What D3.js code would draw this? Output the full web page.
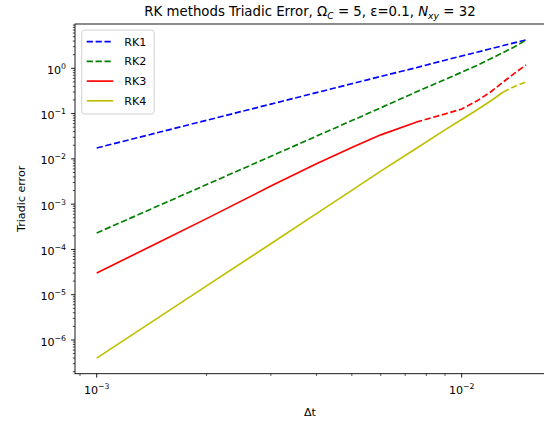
<!DOCTYPE html>
<html lang="en">
<head>
  <meta charset="UTF-8">
  <title>RK methods Triadic Error</title>
  <script src="https://d3js.org/d3.v7.min.js"></script>
  <style>
    body { margin: 0; background: #ffffff; }
    svg { display: block; font-family: 'DejaVu Sans', sans-serif; }
  </style>
</head>
<body>
  <svg width="544" height="426"></svg>

  <script>
    // time steps and errors
    const dt = [0.001, 0.0015, 0.002, 0.003, 0.004, 0.005, 0.006, 0.0075, 0.009, 0.010, 0.011, 0.012, 0.013, 0.014, 0.015];
    const rk1 = [0.0174, 0.0396, 0.0711, 0.162, 0.290, 0.457, 0.661, 1.03, 1.51, 1.87, 2.26, 2.70, 3.18, 3.69, 4.25];
    const rk2 = [2.31e-4, 9.75e-4, 2.71e-3, 0.0114, 0.0317, 0.070, 0.134, 0.30, 0.564, 0.82, 1.15, 1.62, 2.24, 3.02, 4.2];
    const rk3 = [3.03e-5, 1.51e-4, 4.79e-4, 2.51e-3, 7.76e-3, 0.0178, 0.0339, 0.0646, 0.098, 0.126, 0.19, 0.30, 0.50, 0.79, 1.18];
    const rk4 = [3.98e-7, 3.41e-6, 1.57e-5, 1.34e-4, 6.18e-4, 2.02e-3, 5.37e-3, 0.0170, 0.0437, 0.0741, 0.120, 0.19, 0.30, 0.40, 0.50];

    // index of the last point of the solid (stable) part, -1 = all dashed
    const series = [
      { name: "RK1", values: rk1, color: "#0000ff", solidEnd: -1 },
      { name: "RK2", values: rk2, color: "#008000", solidEnd: -1 },
      { name: "RK3", values: rk3, color: "#ff0000", solidEnd: 7 },
      { name: "RK4", values: rk4, color: "#bfbf00", solidEnd: 12 }
    ];

    const yDecades = [-6, -5, -4, -3, -2, -1, 0];
    const xDecades = [-3, -2];

    const svg = d3.select("svg");
    const axLeft = 75, axRight = 547.5, axTop = 24, axBottom = 373.7;

    const x = d3.scaleLog().domain([0.001, 0.01]).range([96.7, 461.7]);
    const y = d3.scaleLog().domain([1, 1e-6]).range([68.3, 340]);

    const dash = "6.2,2.7";
    const line = d3.line().x(d => x(d[0])).y(d => y(d[1]));

    const plot = svg.append("g");
    series.forEach(s => {
      const pts = dt.map((t, i) => [t, s.values[i]]);
      if (s.solidEnd >= 0) {
        plot.append("path")
          .attr("d", line(pts.slice(0, s.solidEnd + 1)))
          .attr("fill", "none")
          .attr("stroke", s.color)
          .attr("stroke-width", 1.67);
      }
      plot.append("path")
        .attr("d", line(pts.slice(Math.max(s.solidEnd, 0))))
        .attr("fill", "none")
        .attr("stroke", s.color)
        .attr("stroke-width", 1.67)
        .attr("stroke-dasharray", dash);
    });

    // spines
    svg.append("rect")
      .attr("x", axLeft).attr("y", axTop)
      .attr("width", axRight - axLeft).attr("height", axBottom - axTop)
      .attr("fill", "none").attr("stroke", "#000").attr("stroke-width", 0.9);

    // ticks
    const ticks = svg.append("g").attr("stroke", "#000").attr("stroke-width", 0.9);
    yDecades.forEach(e => {
      ticks.append("line").attr("x1", axLeft - 3.9).attr("x2", axLeft)
        .attr("y1", y(Math.pow(10, e))).attr("y2", y(Math.pow(10, e)));
    });
    for (let e = -7; e <= 0; e++) {
      for (let m = 2; m <= 9; m++) {
        const py = y(m * Math.pow(10, e));
        if (py < axTop || py > axBottom) continue;
        ticks.append("line").attr("x1", axLeft - 2.2).attr("x2", axLeft)
          .attr("y1", py).attr("y2", py).attr("stroke-width", 0.7);
      }
    }
    xDecades.forEach(e => {
      ticks.append("line").attr("y1", axBottom).attr("y2", axBottom + 3.9)
        .attr("x1", x(Math.pow(10, e))).attr("x2", x(Math.pow(10, e)));
    });
    for (let e = -4; e <= -2; e++) {
      for (let m = 2; m <= 9; m++) {
        const px = x(m * Math.pow(10, e));
        if (px < axLeft || px > axRight) continue;
        ticks.append("line").attr("y1", axBottom).attr("y2", axBottom + 2.2)
          .attr("x1", px).attr("x2", px).attr("stroke-width", 0.7);
      }
    }

    // tick labels with superscripts
    function powLabel(g, e, px, py, anchor) {
      const t = g.append("text")
        .attr("x", px).attr("y", py)
        .attr("text-anchor", anchor)
        .attr("font-size", 11.1)
        .attr("fill", "#000");
      t.append("tspan").text("10");
      t.append("tspan").attr("dy", -5).attr("font-size", 7.8)
        .text(e < 0 ? "\u2212" + (-e) : String(e));
    }
    yDecades.forEach(e => powLabel(svg, e, 66, y(Math.pow(10, e)) + 5.5, "end"));
    xDecades.forEach(e => powLabel(svg, e, x(Math.pow(10, e)), 394, "middle"));

    // axis labels
    svg.append("text")
      .attr("x", 310).attr("y", 416)
      .attr("text-anchor", "middle").attr("font-size", 11.1)
      .text("\u0394t");
    svg.append("text")
      .attr("transform", "translate(25," + ((axTop + axBottom) / 2) + ") rotate(-90)")
      .attr("text-anchor", "middle").attr("font-size", 11.1)
      .text("Triadic error");

    // title with mathtext-like pieces
    const title = svg.append("text")
      .attr("x", 310).attr("y", 16)
      .attr("text-anchor", "middle").attr("font-size", 13.3);
    title.append("tspan").text("RK methods Triadic Error, \u03a9");
    title.append("tspan").attr("dy", 3).attr("font-size", 9.3).attr("font-style", "italic").text("C");
    title.append("tspan").attr("dy", -3).text(" = 5, \u03b5=0.1, ");
    title.append("tspan").attr("font-style", "italic").text("N");
    title.append("tspan").attr("dy", 3).attr("font-size", 9.3).attr("font-style", "italic").text("xy");
    title.append("tspan").attr("dy", -3).text(" = 32");

    // legend
    const legend = svg.append("g");
    legend.append("rect")
      .attr("x", 81.7).attr("y", 30).attr("width", 72.5).attr("height", 84)
      .attr("rx", 3).attr("fill", "#fff").attr("fill-opacity", 0.8)
      .attr("stroke", "#cccccc").attr("stroke-width", 0.9);
    series.forEach((s, i) => {
      const ly = 41.7 + i * 19.7;
      legend.append("line")
        .attr("x1", 86.7).attr("x2", 113.3).attr("y1", ly).attr("y2", ly)
        .attr("stroke", s.color).attr("stroke-width", 1.67)
        .attr("stroke-dasharray", s.solidEnd < 0 ? dash : null);
      legend.append("text")
        .attr("x", 124.3).attr("y", ly + 4)
        .attr("font-size", 11.1).text(s.name);
    });
  </script>
</body>
</html>
